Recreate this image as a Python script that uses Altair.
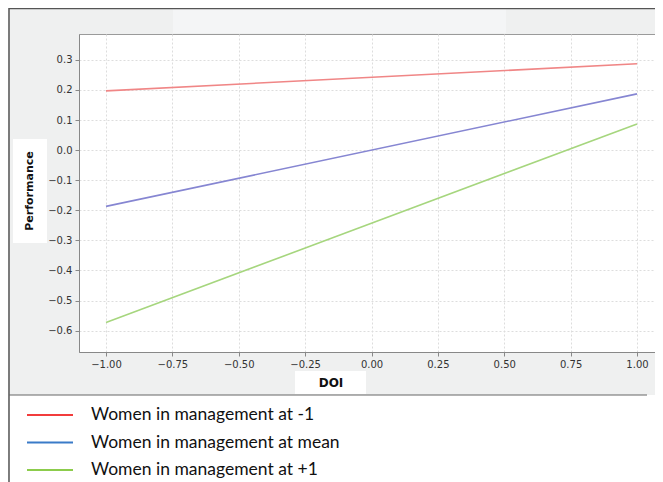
import altair as alt
import pandas as pd

series = ["Women in management at -1", "Women in management at mean", "Women in management at +1"]
doi = [-1.0, 1.0]
perf_low = [0.197, 0.287]
perf_mean = [-0.187, 0.187]
perf_high = [-0.573, 0.087]
line_colors = ["#f08686", "#8686d2", "#a6d67e"]
legend_colors = ["#f23c3c", "#3a7bc8", "#8ccc4c"]
x_ticks = [-1.0, -0.75, -0.5, -0.25, 0.0, 0.25, 0.5, 0.75, 1.0]
y_ticks = [-0.6, -0.5, -0.4, -0.3, -0.2, -0.1, 0.0, 0.1, 0.2, 0.3]
x_title = "DOI"
y_title = "Performance"

W, H = 576, 318
BOTTOM = 448

rows = []
for s, vals in zip(series, [perf_low, perf_mean, perf_high]):
    for x, y in zip(doi, vals):
        rows.append({"series": s, "doi": x, "perf": y})
df = pd.DataFrame(rows)

one = pd.DataFrame({"a": [0]})

# decoration (outside plot area)
legend_bg = alt.Chart(one).mark_rect(color="white").encode(
    x=alt.value(-70), x2=alt.value(W), y=alt.value(361), y2=alt.value(BOTTOM))
tab = alt.Chart(one).mark_rect(color="#f4f5f6").encode(
    x=alt.value(94), x2=alt.value(427), y=alt.value(-25), y2=alt.value(-1))
ybox = alt.Chart(one).mark_rect(color="white").encode(
    x=alt.value(-66), x2=alt.value(-32), y=alt.value(105), y2=alt.value(209))
xbox = alt.Chart(one).mark_rect(color="white").encode(
    x=alt.value(216), x2=alt.value(287), y=alt.value(337), y2=alt.value(360))
border_left = alt.Chart(one).mark_rule(color="#555", strokeWidth=1.5).encode(
    x=alt.value(-70), y=alt.value(-26), y2=alt.value(BOTTOM))
border_top = alt.Chart(one).mark_rule(color="#555", strokeWidth=1.5).encode(
    x=alt.value(-70), x2=alt.value(W), y=alt.value(-25.5))
border_bottom = alt.Chart(one).mark_rule(color="#666", strokeWidth=1.2).encode(
    x=alt.value(-70), x2=alt.value(568), y=alt.value(361))
ytitle = alt.Chart(one).mark_text(angle=270, fontWeight="bold", fontSize=11,
                                  font="DejaVu Sans", color="#111").encode(
    x=alt.value(-49), y=alt.value(157), text=alt.value(y_title))
xtitle = alt.Chart(one).mark_text(fontWeight="bold", fontSize=12,
                                  font="DejaVu Sans", color="#111").encode(
    x=alt.value(252), y=alt.value(349), text=alt.value(x_title))

lines = alt.Chart(df).mark_line(strokeWidth=1.6).encode(
    x=alt.X("doi:Q", scale=alt.Scale(domain=[-1.1017, 1.0678], nice=False, zero=False),
            axis=alt.Axis(values=x_ticks, format=".2f", title=None)),
    y=alt.Y("perf:Q", scale=alt.Scale(domain=[-0.671, 0.386], nice=False, zero=False),
            axis=alt.Axis(values=y_ticks, format=".1f", title=None)),
    color=alt.Color("series:N", scale=alt.Scale(domain=series, range=line_colors), legend=None),
    detail="series:N",
)

leg_df = pd.DataFrame({"series": series, "lcolor": legend_colors})
leg_y = alt.Y("series:N", scale=alt.Scale(type="point", domain=series, range=[381, 436], padding=0),
              axis=None)
leg_rules = alt.Chart(leg_df).mark_rule(strokeWidth=2).encode(
    x=alt.value(-52), x2=alt.value(-6), y=leg_y,
    stroke=alt.Stroke("lcolor:N", scale=None))
leg_text = alt.Chart(leg_df).mark_text(align="left", baseline="middle", fontSize=17.5,
                                       font="Lato", color="#111").encode(
    x=alt.value(12), y=leg_y, text="series:N")

chart = alt.layer(
    legend_bg, tab, ybox, xbox, ytitle, xtitle, lines,
    border_left, border_top, border_bottom, leg_rules, leg_text
).resolve_scale(y="independent").properties(
    width=W, height=H,
    autosize=alt.AutoSizeParams(type="none"),
    padding={"left": 71, "top": 26, "right": 0, "bottom": BOTTOM - H},
    background="#eff0f0",
).configure_view(fill="white", stroke="#9a9a9a", strokeWidth=1).configure_axis(
    grid=True, gridColor="#dddddd", gridDash=[2, 2], gridWidth=1,
    domainColor="#888", tickColor="#888", tickSize=4,
    labelFont="DejaVu Sans", labelFontSize=10, labelColor="#333", labelPadding=3,
)

chart.save("out.html", embed_options={"renderer": "svg", "actions": False})
